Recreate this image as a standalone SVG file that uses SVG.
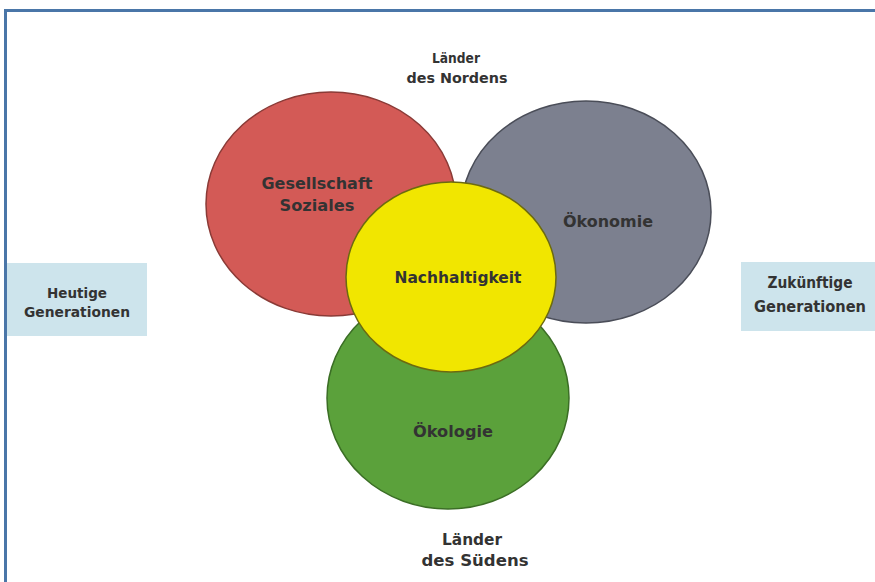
<svg xmlns="http://www.w3.org/2000/svg" width="875" height="582" viewBox="0 0 875 582">
<style>
text{font-family:"DejaVu Sans","Liberation Sans",Arial,sans-serif;font-size:15px;font-weight:bold;text-anchor:middle;fill:#333}
.c{stroke-width:1.5}
.l{font-size:16px}
.s{font-size:14px}
</style>
<rect x="0" y="0" width="875" height="582" fill="#fff"/>
<path d="M5.5 590 V10.5 H880" fill="none" stroke="#4a76a8" stroke-width="3"/>
<g id="label-nord"><text class="s" x="456" y="63" textLength="48" lengthAdjust="spacingAndGlyphs">Länder</text><text class="s" x="457" y="83" textLength="101" lengthAdjust="spacingAndGlyphs">des Nordens</text></g>
<g id="label-sued"><text class="l" x="472" y="545" textLength="60" lengthAdjust="spacingAndGlyphs">Länder</text><text class="l" x="475" y="566" textLength="107" lengthAdjust="spacingAndGlyphs">des Südens</text></g>
<g id="heutige"><rect x="7" y="263" width="140" height="73" fill="#cde4ec"/><text class="s" x="77" y="298" textLength="60" lengthAdjust="spacingAndGlyphs">Heutige</text><text class="s" x="77" y="317" textLength="106" lengthAdjust="spacingAndGlyphs">Generationen</text></g>
<g id="zukuenftige"><rect x="741" y="262" width="140" height="69" fill="#cde4ec"/><text class="l" x="810" y="288" textLength="85" lengthAdjust="spacingAndGlyphs">Zukünftige</text><text class="l" x="810" y="312" textLength="112" lengthAdjust="spacingAndGlyphs">Generationen</text></g>
<g id="gesellschaft"><ellipse class="c" cx="331" cy="204" rx="125" ry="112" fill="#d35a56" stroke="#8a3a36"/><text x="317" y="189" fill="#4a1818" textLength="111" lengthAdjust="spacingAndGlyphs">Gesellschaft</text><text x="317" y="211" fill="#4a1818" textLength="75" lengthAdjust="spacingAndGlyphs">Soziales</text></g>
<g id="oekonomie"><ellipse class="c" cx="586" cy="212" rx="125" ry="111" fill="#7c808f" stroke="#4a4d58"/><text x="608" y="227" fill="#22232f" textLength="90" lengthAdjust="spacingAndGlyphs">Ökonomie</text></g>
<g id="oekologie"><ellipse class="c" cx="448" cy="398" rx="121" ry="111" fill="#5ba13b" stroke="#3b6e25"/><text x="453" y="437" fill="#1c3512" textLength="80" lengthAdjust="spacingAndGlyphs">Ökologie</text></g>
<g id="nachhaltigkeit"><ellipse class="c" cx="451" cy="277" rx="105" ry="95" fill="#f1e600" stroke="#6c6a10"/><text x="458" y="283" fill="#33330a" textLength="127" lengthAdjust="spacingAndGlyphs">Nachhaltigkeit</text></g>
<g id="connectors"/>
</svg>
